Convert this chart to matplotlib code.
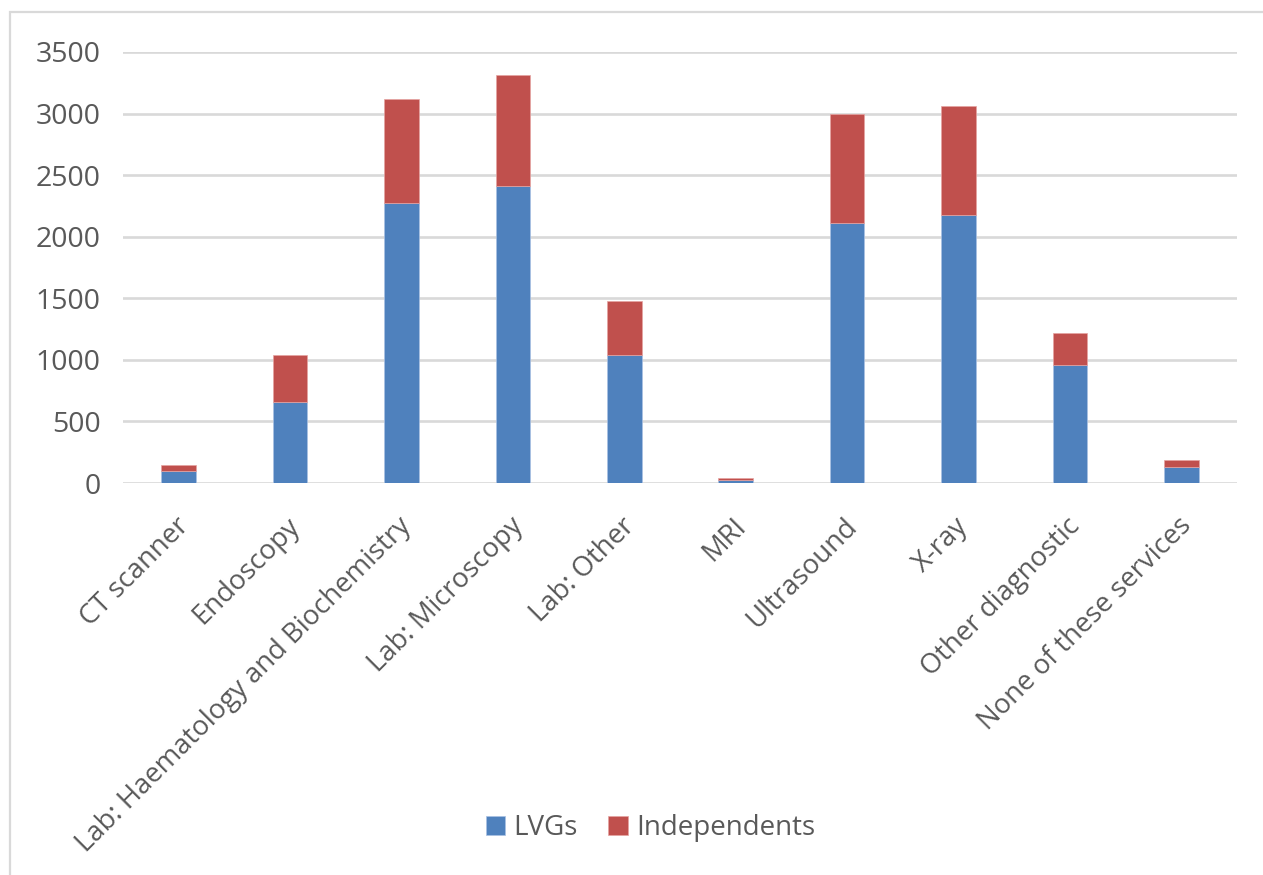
import numpy as np
import matplotlib.pyplot as plt
from matplotlib.patches import Rectangle
from matplotlib.transforms import ScaledTranslation

plt.rcParams['font.family'] = ['Open Sans', 'DejaVu Sans']

categories = ['CT scanner', 'Endoscopy', 'Lab: Haematology and Biochemistry',
              'Lab: Microscopy', 'Lab: Other', 'MRI', 'Ultrasound', 'X-ray',
              'Other diagnostic', 'None of these services']
lvgs = [95, 657, 2270, 2408, 1038, 25, 2108, 2173, 957, 132]
independents = [54, 384, 852, 903, 438, 16, 890, 890, 259, 57]
yticks = [0, 500, 1000, 1500, 2000, 2500, 3000, 3500]

blue = '#4F81BD'
red = '#C0504D'
txt = '#595959'
grid = '#D9D9D9'

W, H = 1263, 875
fig = plt.figure(figsize=(W / 100, H / 100), dpi=100)

# chart area border (cut at right/bottom like the screenshot)
fig.patches.append(Rectangle((10 / W, -0.1), 1.2, 1 - 12 / H + 0.1, transform=fig.transFigure,
                             fill=False, edgecolor=grid, lw=1.6))

ax = fig.add_axes([123 / W, 1 - 483 / H, (1237 - 123) / W, (483 - 52) / H])
x = np.arange(len(categories))
ax.bar(x, lvgs, width=0.31, color=blue, edgecolor='#a9c1e3', lw=0.5, label='LVGs', zorder=3)
ax.bar(x, independents, bottom=lvgs, width=0.31, color=red, edgecolor='#e6a3a1', lw=0.5,
       label='Independents', zorder=3)

ax.set_xlim(-0.5, len(categories) - 0.5)
ax.set_ylim(0, 3500)
ax.set_yticks(yticks)
ax.set_yticklabels([str(v) for v in yticks])
ax.grid(axis='y', color=grid, lw=1.9, zorder=0)
ax.set_axisbelow(True)
for s in ax.spines.values():
    s.set_visible(False)
ax.tick_params(axis='y', length=0, pad=16, labelsize=20.5, labelcolor=txt)
ax.tick_params(axis='x', length=0, pad=12, labelsize=19.8, labelcolor=txt)
ax.set_xticks(x)
ax.set_xticklabels(categories, rotation=45, ha='right', va='center', rotation_mode='anchor')
shift = ScaledTranslation(0.06, -0.03, fig.dpi_scale_trans)
for lab in ax.get_xticklabels():
    lab.set_y(-0.045)
    lab.set_transform(lab.get_transform() + shift)

leg = fig.legend(loc='center', bbox_to_anchor=(0.515, 1 - 828 / H), ncol=2, frameon=False,
                 fontsize=20, handlelength=0.7, handleheight=0.7, handletextpad=0.3,
                 columnspacing=1.1)
for t in leg.get_texts():
    t.set_color(txt)

fig.savefig('out.png', dpi=100, facecolor='white')
